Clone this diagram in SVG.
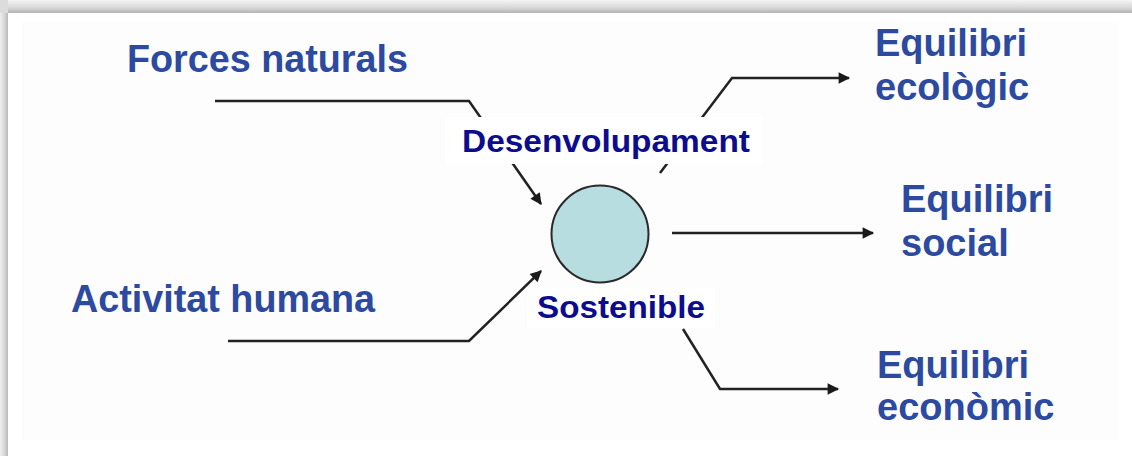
<svg xmlns="http://www.w3.org/2000/svg" width="1132" height="456" viewBox="0 0 1132 456">
<defs>
<linearGradient id="gTop" x1="0" y1="0" x2="0" y2="1">
<stop offset="0" stop-color="#f4f4f4"/><stop offset="0.6" stop-color="#d8d8d8"/><stop offset="1" stop-color="#b4b4b4"/>
</linearGradient>
<linearGradient id="gLeft" x1="0" y1="0" x2="1" y2="0">
<stop offset="0" stop-color="#f0f0f0"/><stop offset="0.6" stop-color="#d4d4d4"/><stop offset="1" stop-color="#b8b8b8"/>
</linearGradient>
<marker id="arr" viewBox="0 0 10 10" refX="9" refY="5" markerWidth="6" markerHeight="4.6" markerUnits="strokeWidth" orient="auto">
<path d="M0,0 L10,5 L0,10 z" fill="#1a1a1a"/>
</marker>
<style>
.lbl{font-family:"Liberation Sans",Arial,sans-serif;font-weight:bold;fill:#2c4aa0;font-size:38px}
.cen{font-family:"Liberation Sans",Arial,sans-serif;font-weight:bold;fill:#0c0c8e;font-size:32px}
.con{fill:none;stroke:#222;stroke-width:2.5;stroke-linejoin:miter}
</style>
</defs>
<rect x="0" y="0" width="1132" height="456" fill="#ffffff"/>
<rect x="0" y="0" width="1132" height="13" fill="url(#gTop)"/>
<rect x="0" y="0" width="8" height="456" fill="url(#gLeft)"/>
<rect x="0" y="0" width="8" height="13" fill="#dcdcdc"/>
<rect x="22" y="22" width="1096" height="418" fill="#fdfdfd"/>

<g id="connectors">
<polyline class="con" points="215,101 469,101 541,204" marker-end="url(#arr)"/>
<polyline class="con" points="228,341 469,341 541,271" marker-end="url(#arr)"/>
<polyline class="con" points="660,173 732,78 849,78" marker-end="url(#arr)"/>
<line class="con" x1="672" y1="233" x2="873" y2="233" marker-end="url(#arr)"/>
<polyline class="con" points="683,329 720,389 838,389" marker-end="url(#arr)"/>
</g>

<g id="node-center">
<circle cx="600" cy="234" r="48.5" fill="#b8dde1" stroke="#2a2a2a" stroke-width="2"/>
</g>
<g id="label-desenvolupament">
<rect x="445" y="117" width="317" height="47" fill="#ffffff"/>
<text class="cen" x="462" y="152" textLength="288" lengthAdjust="spacingAndGlyphs">Desenvolupament</text>
</g>
<g id="label-sostenible">
<rect x="527" y="288" width="188" height="40" fill="#ffffff"/>
<text class="cen" x="537" y="318" textLength="168" lengthAdjust="spacingAndGlyphs">Sostenible</text>
</g>

<g id="node-forces">
<text class="lbl" x="127" y="72" textLength="281" lengthAdjust="spacingAndGlyphs">Forces naturals</text>
</g>
<g id="node-activitat">
<text class="lbl" x="71" y="312" textLength="304" lengthAdjust="spacingAndGlyphs">Activitat humana</text>
</g>
<g id="node-ecologic">
<text class="lbl" x="875" y="56">Equilibri</text>
<text class="lbl" x="875" y="100">ecològic</text>
</g>
<g id="node-social">
<text class="lbl" x="901" y="212">Equilibri</text>
<text class="lbl" x="901" y="256">social</text>
</g>
<g id="node-economic">
<text class="lbl" x="877" y="378">Equilibri</text>
<text class="lbl" x="877" y="420">econòmic</text>
</g>
</svg>
